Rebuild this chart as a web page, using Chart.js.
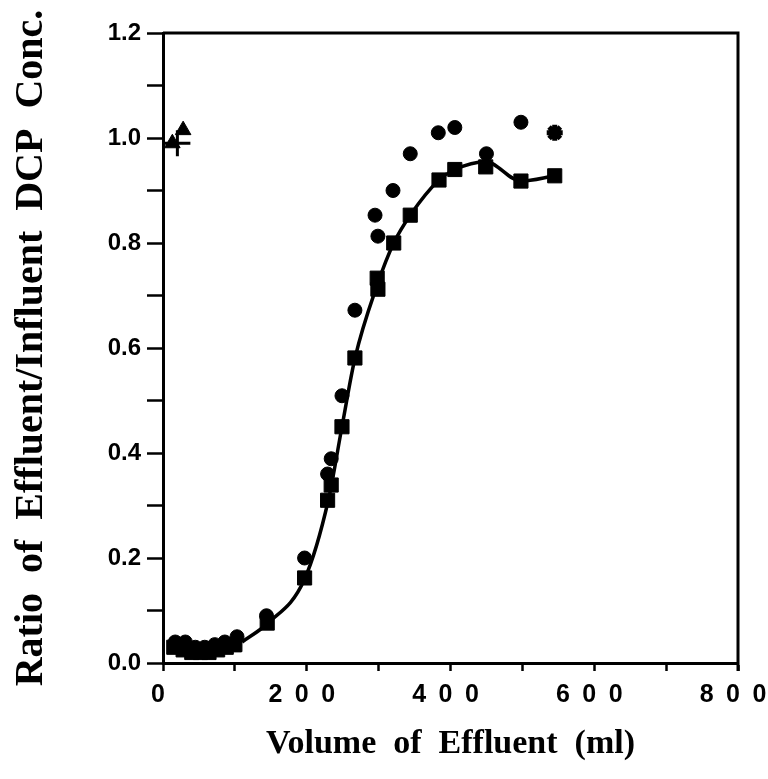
<!DOCTYPE html>
<html lang="en">
<head>
<meta charset="utf-8">
<title>DCP breakthrough</title>
<script src="https://cdn.jsdelivr.net/npm/chart.js@4"></script>
<style>body {margin: 0; background: #fff;}</style>
</head>
<body>
<canvas id="myChart" width="768" height="779"></canvas>
<script>
// squares (column 1) and the fitted curve
const sqX = [15, 28, 40, 52, 64, 76, 88, 100, 145, 197, 229, 234, 249, 267, 298, 299, 321, 344, 384, 406, 449, 498, 545];
const sqY = [0.03, 0.025, 0.02, 0.02, 0.02, 0.025, 0.03, 0.035, 0.076, 0.162, 0.31, 0.339, 0.45, 0.581, 0.733, 0.712, 0.80, 0.853, 0.92, 0.94, 0.945, 0.918, 0.928];
// circles (column 2)
const circX = [17, 31, 45, 58, 72, 86, 103, 144, 197, 229, 234, 249, 267, 295, 299, 320, 344, 383, 406, 450, 498];
const circY = [0.04, 0.04, 0.03, 0.03, 0.035, 0.04, 0.05, 0.09, 0.20, 0.36, 0.389, 0.509, 0.672, 0.853, 0.813, 0.90, 0.97, 1.01, 1.02, 0.97, 1.03];
// triangles, cross, star
const triX = [13, 28, 98];
const triY = [0.99, 1.015, 0.03];
const crossX = [20];
const crossY = [0.99];
const starX = [545];
const starY = [1.01];
// smooth curve through the squares
const curveX = [110, 145, 197, 230, 249, 267, 298, 321, 344, 384, 406, 449, 498, 545];
const curveY = [0.04, 0.075, 0.16, 0.31, 0.45, 0.58, 0.72, 0.80, 0.853, 0.92, 0.94, 0.955, 0.918, 0.928];

const xTicks = [0, 200, 400, 600, 800];

function pts(xs, ys) { return xs.map((x, i) => ({x: x, y: ys[i]})); }

const cadre = {
	id: 'cadre',
	afterDraw(chart) {
		const {ctx, chartArea: a} = chart;
		ctx.save();
		ctx.strokeStyle = '#000';
		ctx.lineWidth = 3;
		ctx.beginPath();
		ctx.moveTo(a.left, a.top);
		ctx.lineTo(a.right, a.top);
		ctx.lineTo(a.right, a.bottom + 8);
		ctx.stroke();
		ctx.restore();
	}
};

const ctx = document.getElementById('myChart').getContext('2d');
const myChart = new Chart(ctx, {
	type: 'scatter',
	data: {
		datasets: [
			{data: pts(curveX, curveY), showLine: true, pointRadius: 0, borderColor: '#000', borderWidth: 3.5, cubicInterpolationMode: 'monotone'},
			{data: pts(circX, circY), pointStyle: 'circle', pointRadius: 7, backgroundColor: '#000', borderColor: '#000'},
			{data: pts(sqX, sqY), pointStyle: 'rect', pointRadius: 10, backgroundColor: '#000', borderColor: '#000'},
			{data: pts(triX, triY), pointStyle: 'triangle', pointRadius: 9, backgroundColor: '#000', borderColor: '#000'},
			{data: pts(crossX, crossY), pointStyle: 'cross', pointRadius: 13, borderWidth: 3, borderColor: '#000'},
			{data: pts(starX, starY), pointStyle: 'star', pointRadius: 8, borderWidth: 5, backgroundColor: '#000', borderColor: '#000'}
		]
	},
	options: {
		responsive: false,
		animation: false,
		layout: {padding: {top: 33, right: 30, left: 0, bottom: 0}},
		plugins: {legend: {display: false}, tooltip: {enabled: false}},
		scales: {
			x: {
				type: 'linear', min: 0, max: 800,
				afterFit: function (s) { s.height = 116; s.paddingRight = 0; s.paddingLeft = 0; },
				border: {display: true, color: '#000', width: 3},
				grid: {drawOnChartArea: false, drawTicks: true, tickLength: 8, tickWidth: 2.5, tickColor: '#000'},
				ticks: {
					stepSize: 100, padding: 9, labelOffset: -5, color: '#000', maxRotation: 0, autoSkip: false,
					font: {family: 'Liberation Sans', size: 25, weight: 'bold'},
					callback: function (v) { return xTicks.includes(v) ? String(v).split('').join('\u2002') : ''; }
				},
				title: {display: true, text: 'Volume  of  Effluent  (ml)', color: '#000', padding: {top: 0, bottom: 14},
					font: {family: 'Liberation Serif', size: 34, weight: 'bold'}}
			},
			y: {
				min: 0, max: 1.2,
				afterFit: function (s) { s.width = 163; },
				border: {display: true, color: '#000', width: 3},
				grid: {drawOnChartArea: false, drawTicks: true, tickLength: 16, tickWidth: 2.5, tickColor: '#000'},
				ticks: {
					stepSize: 0.1, padding: 6, color: '#000', autoSkip: false,
					font: {family: 'Liberation Sans', size: 24, weight: 'bold'},
					callback: function (v) { return Math.round(v * 10) % 2 === 0 ? v.toFixed(1) : ''; }
				},
				title: {display: true, text: 'Ratio  of  Effluent/Influent  DCP  Conc.', color: '#000', padding: {top: 8, bottom: 0},
					font: {family: 'Liberation Serif', size: 40, weight: 'bold'}}
			}
		}
	},
	plugins: [cadre]
});
</script>
</body>
</html>
